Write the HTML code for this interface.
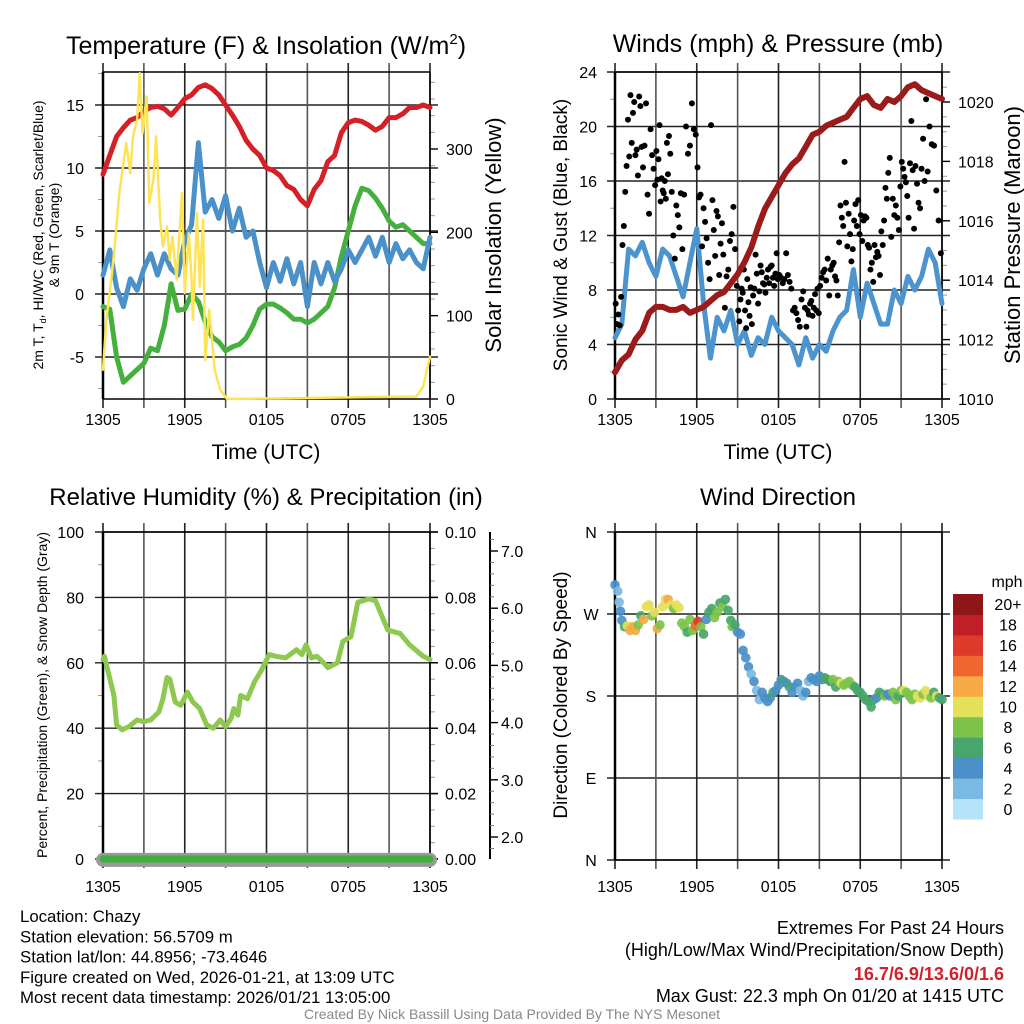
<!DOCTYPE html>
<html><head><meta charset="utf-8"><style>
html,body{margin:0;padding:0;background:#fff;}
svg{display:block;font-family:"Liberation Sans",Arial,sans-serif;}
</style></head><body>
<svg id="chart" width="1024" height="1024" viewBox="0 0 1024 1024" xmlns="http://www.w3.org/2000/svg"></svg>
<script>
// ---------- data ----------
const xTickLabels = ["1305","1905","0105","0705","1305"];
const tempTicks = [-5,0,5,10,15];
const solarTicks = [0,100,200,300];
const windTicks = [0,4,8,12,16,20,24];
const presTicks = [1010,1012,1014,1016,1018,1020];
const rhTicks = [0,20,40,60,80,100];
const precipTicks = ["0.00","0.02","0.04","0.06","0.08","0.10"];
const snowTicks = ["2.0","3.0","4.0","5.0","6.0","7.0"];
const dirTicks = ["N","E","S","W","N"];
const speedBinLabels = ["0","2","4","6","8","10","12","14","16","18","20+"];
const speedBinColors = ["#b4e3f8","#7ab9e3","#4a8fc7","#48a56b","#7dc34b","#e5e05a","#f6a944","#ef6630","#dd3a2c","#c11f27","#8e1518"];

const tempRed = [9.5,11,12.5,13.2,13.8,14.0,14.5,14.8,14.9,14.7,14.2,14.8,15.5,15.8,16.4,16.6,16.3,15.8,15.0,14.2,13.3,12.2,11.5,11.0,10.0,9.8,9.4,8.6,8.3,7.5,7.0,8.3,9.0,10.5,11.0,12.8,13.6,13.8,13.7,13.4,13.0,13.3,14.0,14.0,14.3,14.8,14.8,15.0,14.8];
const dewGreen = [-1,-1.2,-5,-7,-6.5,-6,-5.5,-4.3,-4.5,-2.5,0.8,-1.3,-1.2,0,-0.6,-2.2,-3.4,-3.8,-4.5,-4.2,-4,-3.5,-2.5,-1.2,-0.8,-0.8,-1.1,-1.5,-2,-2,-2.3,-2,-1.5,-1,0.5,3,5,7,8.4,8.2,7.6,6.8,5.8,5.3,5.5,5,4.5,4,4];
const chillBlue = [1.5,3.5,0.5,-1.0,1.2,0.3,2.0,3.2,1.5,3.2,2.0,1.5,4.2,5.5,12.0,6.5,7.5,6.0,7.8,5.0,6.8,4.5,5.0,2.5,0.5,2.5,1.0,2.8,0.8,2.5,-1.0,2.5,0.8,2.5,1.0,2.0,3.5,2.5,3.5,4.5,3.0,4.5,2.5,4.0,2.8,3.5,2.5,2.0,4.5];
const solarT = [0,0.25,0.6,0.86,1.2,1.7,2,2.2,2.5,2.7,2.9,3.2,3.4,3.7,3.9,4.2,4.4,4.7,4.9,5.1,5.4,5.8,6,6.3,6.5,6.6,6.9,7.1,7.35,7.5,7.8,8.2,8.6,9.1,23,23.5,24];
const solarV = [35,95,143,183,247,307,271,315,335,391,319,363,235,263,315,215,183,207,167,195,143,247,127,199,143,95,223,135,215,47,107,35,11,0,3,15,51];

const windBlue = [4.5,5.5,11,10.5,11.5,10,9,11,10.5,9,7.5,10,12.5,7,3,6,5,6.5,4,5,3.2,4.5,4,6,5,4.5,4,2.5,4.5,3,4,3.5,5,6,6.5,9.5,6,8.5,7,5.5,5.5,8,7,9,8,9,11,10,7];
const pressure = [1010.9,1011.3,1011.5,1012.0,1012.3,1012.9,1013.1,1013.1,1013.0,1013.0,1013.1,1012.9,1013.0,1013.1,1013.3,1013.5,1013.6,1013.9,1014.2,1014.6,1015.1,1015.8,1016.4,1016.8,1017.2,1017.6,1017.9,1018.1,1018.5,1018.9,1019.0,1019.2,1019.3,1019.4,1019.5,1019.8,1020.1,1020.2,1019.9,1019.8,1020.1,1020.0,1020.2,1020.5,1020.6,1020.4,1020.3,1020.2,1020.1];
const gustByHour = [
 [7,5.5,6.2,5.4,7.5,11.3,12.7,15.2,17.1,20.5],
 [17.8,22.3,18.8,21,21.8,17.9,18.3,16.4,22.2,21.5,18.5],
 [17,18.6,21.7,15,13.6,19.8,17.9,16.9,15.7],
 [18.2,16.1,17.6,20.1,14.5,16.2,15.3,15.1,16,14.7,18.8,16.5,19.3],
 [18,15.2,12,10.3,14.2,13.5,12.6,15.1,11],
 [15,20,18,18.6,21.7,19.8,19.4],
 [17,14.8,15,11.2,14,13,11.8,10,8.8],
 [20.1,14.6,12.4,10.5,13.8,13.4,9.1,11.4,12.9,10.6],
 [6.7,9,9.5,11.6,12.1,14.1,11,8.3],
 [6.5,5.7,7.3,8.1,7.8,9.5,6.5,5.2,8.8,7.1,6.1,8.2],
 [5.5,7.6,8.1,10.6,9.2,7,7.9,9.8,9.3,8.5,8.4],
 [7.8,8.9,9.5,8.5,9.7,9.8,8.9,8.3,9.2,10.7,8.8],
 [9.1,8.9,8.5,8.8,10.7,9.1,8.6,8.1],
 [6.5,6.7,6.3,5.8,5.3,7.3,7.9,6.7],
 [5.3,6.5,6.2,7,7.2,6.1,6.7,7.7,6.5,8.1,6.3],
 [8.3,8.9,9.3,9.5,8.7,10.3,7.6,9.5,9.8],
 [10,9,8.7,7.6,11.5,14.2,13.3,12.7,17.4,14.4],
 [11.2,13.6,12.1,10.1,11,13.1,14.3,12.7,14.6,12.1],
 [13.5,11.6,13.1,13.4,13.3,11.3,11.1,9.5,10,8.6],
 [11.3,10.4,10.8,10.5,9.1,12.3,11.3,13.1,15.5,14.7],
 [16.6,17.7,11.9,14.7,13.5,14.2,13.3,12.4,15.6],
 [17.4,16.9,16.3,15.9,14.9,13.3,17.3,20.4,16.8,12.5],
 [17.1,15.8,14.4,14,16.9,19.1,16,22,16.7],
 [20,18.7,18.6,15.3,13.1,10.7]
];

const rhT = [0,0.1,0.8,1.0,1.4,1.9,2.5,3,3.5,4.1,4.4,4.7,4.9,5.3,5.7,6.2,6.6,7.1,7.6,8.1,8.6,9,9.4,9.6,9.9,10.1,10.6,11.1,11.6,12.2,12.7,13.4,14.2,14.6,14.9,15.3,15.7,16.2,16.5,17.2,17.6,18.2,18.7,19.5,20,20.9,21.8,22.5,23.5,24];
const rhV = [61,62,50,41,39.5,40.5,42.5,42,42.5,45,49,55.5,55,48,47,51,48,46,41,40,42.5,40.5,43,46,44,50,49,54,57.5,62.5,62,61.5,64,62.5,65.5,61.5,62,60,58.5,60,66.5,68,78.5,79.5,79,70,69,65.5,62,61];
const precipV = [0,0];
const snowV = [1.6,1.6];

const dirT = [0,0.2,0.3,0.4,0.5,0.7,0.9,1.1,1.3,1.5,1.7,1.9,2.1,2.3,2.5,2.7,2.9,3.1,3.3,3.5,3.7,3.9,4.1,4.3,4.5,4.7,4.9,5.1,5.3,5.5,5.7,5.9,6.1,6.3,6.5,6.7,6.9,7.1,7.3,7.5,7.7,7.9,8.1,8.3,8.5,8.6,8.8,9.0,9.2,9.4,9.6,9.8,10.0,10.2,10.4,10.6,10.8,11.0,11.2,11.4,11.6,11.8,12.0,12.2,12.4,12.6,12.8,13.0,13.2,13.4,13.6,13.8,14.0,14.2,14.4,14.6,14.8,15.0,15.2,15.4,15.6,15.8,16.0,16.2,16.4,16.6,16.8,17.0,17.2,17.4,17.6,17.8,18.0,18.2,18.4,18.6,18.8,19.0,19.2,19.4,19.6,19.8,20.0,20.2,20.4,20.6,20.8,21.0,21.2,21.4,21.6,21.8,22.0,22.2,22.4,22.6,22.8,23.0,23.2,23.4,23.6,23.8,24.0];
const dirV = [302,295,283,273,263,256,257,252,256,252,258,268,264,278,280,268,272,254,258,278,286,286,280,276,280,277,260,256,250,264,252,257,262,256,248,264,272,276,266,272,282,278,286,274,263,256,258,250,248,230,222,212,204,196,186,176,184,178,174,178,184,186,192,198,196,194,190,184,190,194,186,180,184,196,200,198,196,202,198,200,198,196,198,190,196,194,192,194,196,192,190,186,184,180,176,174,168,176,178,184,182,180,182,180,184,176,180,186,186,184,180,176,182,180,178,182,186,180,178,184,180,178,176];
const dirSpeed = [4,2,2,4,4,6,10,12,12,12,8,6,12,10,10,8,10,12,8,10,10,12,10,8,10,10,8,8,6,8,8,14,16,8,6,4,6,6,8,8,6,8,6,6,6,8,6,4,4,4,4,4,2,4,2,2,4,4,4,4,6,4,4,4,6,4,6,4,4,4,2,2,4,2,4,4,4,4,4,6,6,6,8,6,8,10,8,8,8,8,6,6,6,6,6,6,6,6,4,6,6,8,4,4,8,8,6,8,10,8,8,8,8,10,10,8,10,10,8,6,10,6,6];

// ---------- drawing ----------
const svg = document.getElementById('chart');
const NS = 'http://www.w3.org/2000/svg';
const TICK = 16;
function el(tag, attrs, name, parent){
  const e = document.createElementNS(NS, tag);
  for (const k in attrs) e.setAttribute(k, attrs[k]);
  
  
  (parent||svg).appendChild(e);
  return e;
}
function txt(x,y,s,size,name,opts){
  opts = opts||{};
  const a = {x:x,y:y,'font-size':size,fill:opts.fill||'#000','text-anchor':opts.anchor||'middle'};
  if (opts.weight) a['font-weight'] = opts.weight;
  if (opts.rot) a.transform = 'rotate(-90 '+x+' '+y+')';
  const t = el('text', a, name);
  t.textContent = s;
  return t;
}
function ln(x1,y1,x2,y2,stroke,w,name){
  return el('line',{x1:x1,y1:y1,x2:x2,y2:y2,stroke:stroke,'stroke-width':w},name);
}
function path(pts,stroke,w,name){
  const d = pts.map((p,i)=>(i?'L':'M')+p[0].toFixed(1)+' '+p[1].toFixed(1)).join(' ');
  return el('path',{d:d,fill:'none',stroke:stroke,'stroke-width':w,'stroke-linejoin':'round','stroke-linecap':'round'},name);
}
function xs(x0){ return t => x0 + t*(327/24); }

function frame(x0,y0,x1,y1,prefix,labelY){
  const X = xs(x0);
  for (let h=0; h<=24; h+=3){
    const gx = X(h);
    ln(gx,y0-9,gx,y1+9,(h%6===0)?'#222':'#555',1.6,prefix+'-v-grid-'+h);
  }
  xTickLabels.forEach((s,i)=>txt(X(i*6),labelY,s,TICK,prefix+'-x-tick-label'));
  ln(x0,y0,x0,y1,'#000',2.5,prefix+'-left-axis');
  ln(x1,y0,x1,y1,'#000',1.5,prefix+'-right-axis');
  ln(x0,y0,x1,y0,'#000',1.5,prefix+'-top-border');
  ln(x0,y1,x1,y1,'#000',1.5,prefix+'-bottom-border');
}
function hgrid(x0,x1,y,prefix){ ln(x0-8,y,x1+8,y,'#222',1.4,prefix+'-h-grid'); }
function minor(x,y,dir,prefix){ ln(x,y,x+dir*5,y,'#999',1,prefix+'-minor-tick'); }

// ===== Panel 1 =====
(function(){
  const x0=103,x1=430,y0=72,y1=399, X=xs(x0);
  const Y = v => 294 - v*12.6;
  const S = v => 399 - v*(250/300);
  txt(266,54,'Temperature (F) & Insolation (W/m',25,'temp-title').innerHTML = 'Temperature (F) &amp; Insolation (W/m<tspan font-size="15" dy="-10">2</tspan><tspan dy="10">)</tspan>';
  for (let v=-7.5; v<=17.5; v+=5) if (Y(v)>y0 && Y(v)<y1) minor(x0,Y(v),-1,'temp');
  for (let v=0; v<=390; v+=20) if (v%100) minor(x1,S(v),1,'solar');
  tempTicks.forEach(v=>{ hgrid(x0,x1,Y(v),'temp'); txt(84,Y(v)+6,String(v),TICK,'temp-y-tick-label',{anchor:'end'}); });
  solarTicks.forEach(v=>{ ln(x1,S(v),x1+8,S(v),'#000',1.4,'solar-major-tick'); txt(446,S(v)+6,String(v),TICK,'solar-y-tick-label',{anchor:'start'}); });
  frame(x0,y0,x1,y1,'temp',425);
  path(tempRed.map((v,i)=>[X(i*0.5),Y(v)]),'#d52027',5,'temperature-line');
  path(dewGreen.map((v,i)=>[X(i*0.5),Y(v)]),'#45b03d',5,'dewpoint-line');
  path(chillBlue.map((v,i)=>[X(i*0.5),Y(v)]),'#4a90c9',5,'wind-chill-line');
  path(solarV.map((v,i)=>[X(solarT[i]),S(v)]),'#fde457',2.5,'solar-insolation-line');
  txt(266,459,'Time (UTC)',21,'temp-x-axis-title');
  txt(43,235,'2m T, T',14,'temp-y-axis-title',{rot:true}).innerHTML='2m T, T<tspan font-size="9" dy="3">d</tspan><tspan dy="-3">, HI/WC (Red, Green, Scarlet/Blue)</tspan>';
  txt(59,235,'& 9m T (Orange)',14,'temp-y-axis-title-line2',{rot:true});
  txt(501,235,'Solar Insolation (Yellow)',22,'solar-y-axis-title',{rot:true});
})();

// ===== Panel 2 =====
(function(){
  const x0=615,x1=942,y0=72,y1=399, X=xs(x0);
  const Y = v => 399 - v*(327/24);
  const P = v => 399 - (v-1010)*29.7;
  txt(778,52,'Winds (mph) & Pressure (mb)',25,'winds-title');
  for (let v=2; v<24; v+=4) minor(x0,Y(v),-1,'wind');
  for (let v=1010.5; v<1021; v+=0.5) if ((v*2)%4!==0) minor(x1,P(v),1,'pressure');
  windTicks.forEach(v=>{ hgrid(x0,x1,Y(v),'wind'); txt(597,Y(v)+6,String(v),TICK,'wind-y-tick-label',{anchor:'end'}); });
  presTicks.forEach(v=>{ ln(x1,P(v),x1+8,P(v),'#000',1.4,'pressure-major-tick'); txt(958,P(v)+6,String(v),TICK,'pressure-y-tick-label',{anchor:'start'}); });
  frame(x0,y0,x1,y1,'wind',425);
  path(windBlue.map((v,i)=>[X(i*0.5),Y(v)]),'#4b94cf',5,'sonic-wind-line');
  gustByHour.forEach((arr,h)=>arr.forEach((v,j)=>{
    el('circle',{cx:X(h+(j+0.5)/arr.length),cy:Y(v),r:3,fill:'#000'},'gust-dot');
  }));
  path(pressure.map((v,i)=>[X(i*0.5),P(v)]),'#9b1b1b',6,'pressure-line');
  txt(778,459,'Time (UTC)',21,'winds-x-axis-title');
  txt(567,235,'Sonic Wind & Gust (Blue, Black)',19,'wind-y-axis-title',{rot:true});
  txt(1020,235,'Station Pressure (Maroon)',22,'pressure-y-axis-title',{rot:true});
})();

// ===== Panel 3 =====
(function(){
  const x0=103,x1=430,y0=532,y1=859, X=xs(x0);
  const Y = v => 859 - v*3.27;
  const PR = v => 859 - v*3270;
  const SN = v => 837 - (v-2)*57.2;
  txt(266,505,'Relative Humidity (%) & Precipitation (in)',24,'rh-title');
  for (let v=10; v<100; v+=20) minor(x0,Y(v),-1,'rh');
  for (let v=0.005; v<0.1; v+=0.005) if (Math.round(v*1000)%20) minor(x1,PR(v),1,'precip');
  rhTicks.forEach(v=>{ hgrid(x0,x1,Y(v),'rh'); txt(84,Y(v)+6,String(v),TICK,'rh-y-tick-label',{anchor:'end'}); });
  precipTicks.forEach(s=>{ const v=parseFloat(s); ln(x1,PR(v),x1+8,PR(v),'#000',1.4,'precip-major-tick'); txt(445,PR(v)+6,s,TICK,'precip-y-tick-label',{anchor:'start'}); });
  ln(490,532,490,859,'#000',2,'snow-axis');
  for (let v=1.8; v<7.4; v+=0.2){ const r=Math.round(v*10); if (r%10) ln(490,SN(v),494,SN(v),'#777',1,'snow-minor-tick'); }
  snowTicks.forEach(s=>{ const v=parseFloat(s); ln(490,SN(v),498,SN(v),'#000',1.4,'snow-major-tick'); txt(501,SN(v)+6,s,TICK,'snow-y-tick-label',{anchor:'start'}); });
  frame(x0,y0,x1,y1,'rh',892);
  path(snowV.map((v,i)=>[X(i*24),Math.max(SN(v),y1)]),'#999',14,'snow-depth-line');
  path(precipV.map((v,i)=>[X(i*24),PR(v)]),'#3fae3b',7,'precipitation-line');
  path(rhV.map((v,i)=>[X(rhT[i]),Y(v)]),'#8dc84f',5,'relative-humidity-line');
  txt(47,695,'Percent, Precipitation (Green), & Snow Depth (Gray)',14,'rh-y-axis-title',{rot:true});
})();

// ===== Panel 4 =====
(function(){
  const x0=615,x1=942,y0=532,y1=860, X=xs(x0);
  const Y = v => 860 - v*(328/360);
  txt(778,505,'Wind Direction',24,'direction-title');
  dirTicks.forEach((s,i)=>{ const v=i*90; hgrid(x0,x1,Y(v),'dir'); txt(591,Y(v)+6,s,TICK,'direction-y-tick-label'); });
  frame(x0,y0,x1,y1,'dir',892);
  dirV.forEach((v,i)=>{
    const b = Math.min(10, Math.round(dirSpeed[i]/2));
    el('circle',{cx:X(dirT[i]),cy:Y(v),r:4.8,fill:speedBinColors[b],'fill-opacity':0.92},'direction-dot');
  });
  txt(567,695,'Direction (Colored By Speed)',19,'direction-y-axis-title',{rot:true});
  const cbH=(819-594)/11;
  txt(1007,587,'mph',TICK,'colorbar-title');
  speedBinColors.forEach((c,i)=>{
    const yy = 819-(i+1)*cbH;
    el('rect',{x:953,y:yy,width:30,height:cbH+0.5,fill:c},'colorbar-bin');
    txt(1008,yy+cbH/2+6,speedBinLabels[i],TICK,'colorbar-label');
  });
})();

// ===== footer =====
const infoLines = ["Location: Chazy","Station elevation: 56.5709 m","Station lat/lon: 44.8956; -73.4646","Figure created on Wed, 2026-01-21, at 13:09 UTC","Most recent data timestamp: 2026/01/21 13:05:00"];
infoLines.forEach((s,i)=>txt(20,922+i*20.3,s,16.8,'station-info-line',{anchor:'start'}));
txt(1004,934,'Extremes For Past 24 Hours',18,'extremes-title',{anchor:'end'});
txt(1004,956,'(High/Low/Max Wind/Precipitation/Snow Depth)',18,'extremes-legend',{anchor:'end'});
txt(1004,980,'16.7/6.9/13.6/0/1.6',18,'extremes-values',{anchor:'end',fill:'#d0202a',weight:'bold'});
txt(1004,1002,'Max Gust: 22.3 mph On 01/20 at 1415 UTC',18,'max-gust-text',{anchor:'end'});
txt(512,1019,'Created By Nick Bassill Using Data Provided By The NYS Mesonet',14,'credit-text',{fill:'#888'});
</script>
</body></html>
